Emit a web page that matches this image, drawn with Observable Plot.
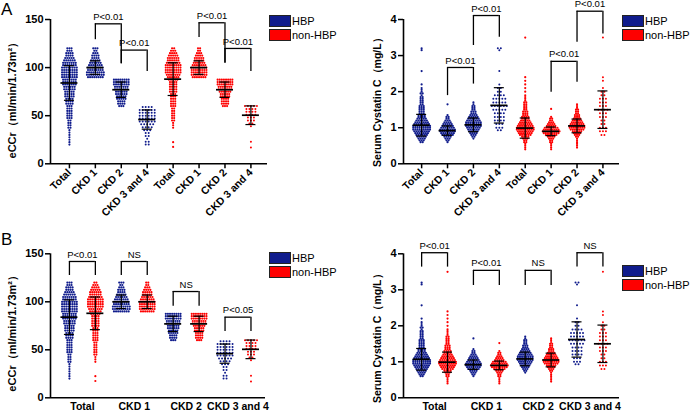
<!DOCTYPE html>
<html><head><meta charset="utf-8">
<script src="https://cdn.jsdelivr.net/npm/d3@7"></script>
<script src="https://cdn.jsdelivr.net/npm/@observablehq/plot@0.6"></script>
<style>
body{margin:0;background:#fff;}
#fig{position:relative;width:690px;height:411px;overflow:hidden;background:#fff;font-family:"Liberation Sans",Arial,sans-serif;}
.panel{position:absolute;}
.letter{position:absolute;font-size:17px;line-height:17px;color:#000;}
.legend{position:absolute;font-size:11px;color:#000;white-space:nowrap;}
.legend .item{display:flex;align-items:center;height:14px;white-space:nowrap;}
.sw{width:22px;height:12px;border:1px solid #222;margin-right:1px;box-sizing:border-box;flex:none;}
</style></head><body><div id="fig"></div>
<script>
const groups = ["Total", "CKD 1", "CKD 2", "CKD 3 and 4"];
const seriesNames = ["HBP", "non-HBP"];
const navy = "#101c8c", red = "#fe0000";

// eCCr rows: [value, number of dots in the row]
const eccrHbpTotal = [[120,3],[117.5,3],[115,4],[112.5,4],[110,5],[107.5,6],[105,7],[102.5,7],[100,8],[97.5,8],[95,8],[92.5,8],[90,8],[87.5,7],[85,7],[82.5,7],[80,6],[77.5,6],[75,5],[72.5,5],[70,5],[67.5,4],[65,4],[62.5,4],[60,3],[57.5,3],[55,3],[52.5,3],[50,3],[47.5,3],[45,2],[42.5,2],[40,2],[37.5,2],[35,1],[32.5,1],[30,1],[27.5,1],[25,1],[22.5,1],[20,1]];
const eccrHbpCkd1 = [[120,3],[117.5,2],[115,3],[112.5,4],[110,4],[107.5,5],[105,6],[102.5,7],[100,8],[97.5,8],[95,9],[92.5,9],[90,8]];
const eccrHbpCkd2 = [[87.5,8],[85,8],[82.5,8],[80,7],[77.5,7],[75,6],[72.5,6],[70,5],[67.5,5],[65,4],[62.5,4],[60,3]];
const eccrHbpCkd34 = [[59,4],[56,6],[53,6],[50,6],[47,6],[44,6],[41,5],[38,4],[35,3],[32,2],[29,2],[26,1],[23,2],[20,2]];
const eccrNonTotal = [[120,2],[117.5,3],[115,4],[112.5,5],[110,6],[107.5,6],[105,7],[102.5,8],[100,8],[97.5,8],[95,8],[92.5,7],[90,6],[87.5,5],[85,4],[82.5,4],[80,4],[77.5,4],[75,4],[72.5,3],[70,3],[67.5,3],[65,3],[62.5,3],[60,3],[57.5,2],[55,2],[52.5,2],[50,2],[47.5,2],[45,2],[42.5,1],[40,1],[37.5,1],[22.5,1],[17.5,1]];
const eccrNonCkd1 = [[120,2],[117.5,2],[115,3],[112.5,4],[110,5],[107.5,5],[105,6],[102.5,7],[100,8],[97.5,8],[95,8],[92.5,8],[90,7]];
const eccrNonCkd2 = [[87.5,8],[85,8],[82.5,8],[80,7],[77.5,7],[75,6],[72.5,5],[70,5],[67.5,4],[65,4],[62.5,4],[60,3]];
const eccrNonCkd34 = [[60,5],[57,4],[54,4],[51,4],[48,3],[45,3],[42,2],[39,1],[23,1],[17,1]];

// Serum cystatin C rows: [value, number of dots in the row]
const cysHbpTotal = [[3.2,1],[3.15,1],[2.57,1],[2.2,1],[2.1,1],[2.05,1],[2.0,1],[1.95,2],[1.9,1],[1.85,2],[1.8,2],[1.75,2],[1.7,2],[1.65,2],[1.6,3],[1.55,3],[1.5,3],[1.45,3],[1.4,3],[1.35,4],[1.3,4],[1.25,5],[1.2,6],[1.15,7],[1.1,8],[1.05,9],[1.0,9],[0.95,9],[0.9,8],[0.85,7],[0.8,6],[0.75,5],[0.7,4],[0.65,3],[0.6,2]];
const cysHbpCkd1 = [[1.65,1],[1.35,1],[1.3,2],[1.25,2],[1.2,3],[1.15,4],[1.1,5],[1.05,6],[1.0,7],[0.95,8],[0.9,8],[0.85,7],[0.8,6],[0.75,4],[0.7,3],[0.65,2],[0.6,1]];
const cysHbpCkd2 = [[1.7,1],[1.65,1],[1.6,2],[1.55,2],[1.5,2],[1.45,3],[1.4,3],[1.35,4],[1.3,5],[1.25,6],[1.2,7],[1.15,8],[1.1,8],[1.05,8],[1.0,7],[0.95,6],[0.9,5],[0.85,4],[0.8,3],[0.75,2],[0.7,1]];
const cysHbpCkd34 = [[3.2,2],[3.15,1],[2.57,1],[2.2,1],[2.1,2],[2.0,2],[1.9,4],[1.8,5],[1.7,5],[1.6,6],[1.5,5],[1.4,4],[1.3,4],[1.2,4],[1.1,3],[1.0,3],[0.93,2]];
const cysNonTotal = [[3.5,1],[2.4,1],[2.3,1],[2.2,1],[2.1,1],[2.0,1],[1.9,1],[1.85,1],[1.8,1],[1.75,1],[1.7,2],[1.65,2],[1.6,2],[1.55,2],[1.5,2],[1.45,3],[1.4,3],[1.35,3],[1.3,4],[1.25,4],[1.2,5],[1.15,6],[1.1,7],[1.05,8],[1.0,9],[0.95,9],[0.9,8],[0.85,7],[0.8,6],[0.75,4],[0.7,3],[0.65,2],[0.6,2],[0.55,1],[0.5,1],[0.45,1],[0.4,1]];
const cysNonCkd1 = [[1.52,1],[1.3,1],[1.25,2],[1.2,2],[1.15,3],[1.1,4],[1.05,5],[1.0,7],[0.95,8],[0.9,9],[0.85,8],[0.8,6],[0.75,4],[0.7,3],[0.65,2],[0.6,2],[0.55,1],[0.5,1],[0.45,1],[0.4,1]];
const cysNonCkd2 = [[1.65,1],[1.6,1],[1.55,1],[1.5,2],[1.45,2],[1.4,2],[1.35,3],[1.3,3],[1.25,4],[1.2,5],[1.15,6],[1.1,7],[1.05,8],[1.0,8],[0.95,7],[0.9,5],[0.85,4],[0.8,3],[0.75,2],[0.7,1],[0.65,1],[0.6,1],[0.55,1],[0.5,1],[0.45,1]];
const cysNonCkd34 = [[3.5,1],[2.4,1],[2.3,1],[2.1,1],[2.0,2],[1.9,2],[1.8,3],[1.7,3],[1.6,3],[1.5,4],[1.4,3],[1.3,3],[1.2,2],[1.1,2],[1.0,3],[0.9,3],[0.8,2]];

// mean and SD per group (Total, CKD 1, CKD 2, CKD 3 and 4)
const eccrHbpMean = [84, 100, 77, 46];
const eccrHbpSd = [18, 7, 8, 10];
const eccrNonMean = [88, 100, 77, 50.5];
const eccrNonSd = [17, 7, 8, 9.7];
const cysHbpMean = [1.07, 0.92, 1.08, 1.62];
const cysHbpSd = [0.30, 0.13, 0.19, 0.49];
const cysNonMean = [0.99, 0.90, 1.05, 1.50];
const cysNonSd = [0.28, 0.12, 0.19, 0.52];

const eccrTicks = [0, 50, 100, 150];
const cysTicks = [0, 1, 2, 3, 4];
const eccrLabel = "eCCr（ml/min/1.73m²）";
const cysLabel = "Serum Cystatin C（mg/L）";

// brackets: [left column, right column, left foot, right foot, top, label]
const bracketsAeccr = [[1,2,129,104,145.5,"P<0.01"],[2,3,104,96,118.2,"P<0.01"],[5,6,131.3,105.3,146.6,"P<0.01"],[6,7,104.3,96,119.9,"P<0.01"]];
const bracketsAcys = [[1,2,1.89,2.21,2.67,"P<0.01"],[2,3,3.28,3.51,4.11,"P<0.01"],[5,6,1.98,2.26,2.84,"P<0.01"],[6,7,3.37,3.6,4.23,"P<0.01"]];
const bracketsBeccr = [[0,1,127.4,127.4,142,"P<0.01"],[2,3,127.4,127.4,142,"NS"],[4,5,95.4,95.4,110.7,"NS"],[6,7,69,69,84,"P<0.05"]];
const bracketsBcys = [[0,1,3.63,3.63,4.03,"P<0.01"],[2,3,3.12,3.12,3.54,"P<0.01"],[4,5,3.12,3.12,3.54,"NS"],[6,7,3.63,3.63,4.03,"NS"]];

const eccrHbp = [eccrHbpTotal, eccrHbpCkd1, eccrHbpCkd2, eccrHbpCkd34];
const eccrNon = [eccrNonTotal, eccrNonCkd1, eccrNonCkd2, eccrNonCkd34];
const cysHbp = [cysHbpTotal, cysHbpCkd1, cysHbpCkd2, cysHbpCkd34];
const cysNon = [cysNonTotal, cysNonCkd1, cysNonCkd2, cysNonCkd34];

function columnsFor(hbpRows, nonRows, hbpMean, hbpSd, nonMean, nonSd, layout) {
  const cols = [];
  groups.forEach((g, i) => {
    const cH = layout === "A" ? i : 2 * i, cN = layout === "A" ? 4 + i : 2 * i + 1;
    cols.push({col: cH, series: "HBP", rows: hbpRows[i], mean: hbpMean[i], sd: hbpSd[i], sparse: i === 3});
    cols.push({col: cN, series: "non-HBP", rows: nonRows[i], mean: nonMean[i], sd: nonSd[i], sparse: i === 3});
  });
  return cols;
}

const fig = document.getElementById("fig");
const FONT = "'Liberation Sans', Arial, sans-serif";

function makePanel(o) {
  const {width, height, mL, mR, mT, mB, xDomain, yDomain} = o;
  const pxu = (width - mL - mR) / (xDomain[1] - xDomain[0]);
  const dense = [], sparse = [];
  o.columns.forEach(c => {
    const pitch = (c.sparse ? 3.0 : 2.1) / pxu;
    for (const [v, n] of c.rows) for (let i = 0; i < n; i++)
      (c.sparse ? sparse : dense).push({x: c.col + (i - (n - 1) / 2) * pitch, y: v, series: c.series});
  });
  const mW = 8.5 / pxu, cW = 5 / pxu;
  const caps = o.columns.flatMap(c => [{col: c.col, y: c.mean - c.sd}, {col: c.col, y: c.mean + c.sd}]);
  const svg = Plot.plot({
    width, height, marginLeft: mL, marginRight: mR, marginTop: mT, marginBottom: mB,
    x: {domain: xDomain},
    y: {domain: yDomain},
    color: {domain: seriesNames, range: [navy, red]},
    style: {fontFamily: FONT, background: "transparent", overflow: "hidden", color: "#000"},
    marks: [
      Plot.axisY({ticks: o.yTicks, tickFormat: d => String(d), tickSize: 5, tickPadding: 2, strokeWidth: 1.5, fontSize: 11, fontWeight: "bold", label: null}),
      o.xAxis,
      Plot.ruleY([yDomain[0]], {stroke: "#000", strokeWidth: 1.6}),
      Plot.ruleX([xDomain[0]], {y1: yDomain[0], y2: yDomain[1], stroke: "#000", strokeWidth: 1.6}),
      Plot.dot(dense, {x: "x", y: "y", fill: "series", r: 1.1}),
      Plot.dot(sparse, {x: "x", y: "y", fill: "series", r: 1.0}),
      Plot.ruleX(o.columns, {x: "col", y1: c => c.mean - c.sd, y2: c => c.mean + c.sd, stroke: "#000", strokeWidth: 1.2}),
      Plot.ruleY(caps, {y: "y", x1: c => c.col - cW, x2: c => c.col + cW, stroke: "#000", strokeWidth: 1.2}),
      Plot.ruleY(o.columns, {y: "mean", x1: c => c.col - mW, x2: c => c.col + mW, stroke: "#000", strokeWidth: 1.7}),
      Plot.ruleY(o.brackets, {y: b => b[4], x1: b => b[0], x2: b => b[1], stroke: "#000", strokeWidth: 1.3}),
      Plot.ruleX(o.brackets, {x: b => b[0], y1: b => b[2], y2: b => b[4], stroke: "#000", strokeWidth: 1.3}),
      Plot.ruleX(o.brackets, {x: b => b[1], y1: b => b[3], y2: b => b[4], stroke: "#000", strokeWidth: 1.3}),
      Plot.text(o.brackets, {x: b => (b[0] + b[1]) / 2, y: b => b[4], text: b => b[5], dy: -7, fontSize: 9.5, fill: "#000"}),
      Plot.text([o.yLabel], {text: d => d, frameAnchor: "left", textAnchor: "middle", lineAnchor: "middle", rotate: -90, dx: o.labelDx, dy: o.labelDy, fontSize: o.labelSize, fontWeight: "bold", fill: "#000"})
    ]
  });
  svg.classList.add("panel");
  svg.style.left = o.left + "px";
  svg.style.top = o.top + "px";
  fig.appendChild(svg);
}

const colLabelsA = [...groups, ...groups];
const axisA = () => Plot.axisX({ticks: d3.range(8), tickFormat: d => colLabelsA[d], tickRotate: -45, tickSize: 5, tickPadding: 2, strokeWidth: 1.5, fontSize: 10.5, fontWeight: "bold", label: null});
const pairCenters = groups.map((g, i) => 2 * i + 0.5);
const axisB = () => Plot.axisX({ticks: pairCenters, tickFormat: d => groups[Math.round((d - 0.5) / 2)], tickSize: 0, tickPadding: 5, fontSize: 10.5, fontWeight: "bold", label: null});

// Panel A, eCCr
makePanel({left: 0, top: 0, width: 275, height: 222, mL: 50, mR: 8, mT: 19, mB: 58.7,
  xDomain: [-0.73, 7.64], yDomain: [0, 150], yTicks: eccrTicks, xAxis: axisA(),
  columns: columnsFor(eccrHbp, eccrNon, eccrHbpMean, eccrHbpSd, eccrNonMean, eccrNonSd, "A"),
  brackets: bracketsAeccr, yLabel: eccrLabel, labelDx: -38, labelDy: 6, labelSize: 11});
// Panel A, cystatin C
makePanel({left: 345, top: 0, width: 280, height: 222, mL: 58, mR: 6, mT: 19, mB: 58.7,
  xDomain: [-0.7, 7.64], yDomain: [0, 4], yTicks: cysTicks, xAxis: axisA(),
  columns: columnsFor(cysHbp, cysNon, cysHbpMean, cysHbpSd, cysNonMean, cysNonSd, "A"),
  brackets: bracketsAcys, yLabel: cysLabel, labelDx: -26, labelDy: 8, labelSize: 10.5});
// Panel B, eCCr
makePanel({left: 0, top: 222, width: 275, height: 189, mL: 50, mR: 10, mT: 31.3, mB: 13.7,
  xDomain: [-0.73, 7.56], yDomain: [0, 150], yTicks: eccrTicks, xAxis: axisB(),
  columns: columnsFor(eccrHbp, eccrNon, eccrHbpMean, eccrHbpSd, eccrNonMean, eccrNonSd, "B"),
  brackets: bracketsBeccr, yLabel: eccrLabel, labelDx: -38, labelDy: 5, labelSize: 11});
// Panel B, cystatin C
makePanel({left: 345, top: 222, width: 280, height: 189, mL: 58, mR: 6, mT: 31.3, mB: 13.7,
  xDomain: [-0.7, 7.64], yDomain: [0, 4], yTicks: cysTicks, xAxis: axisB(),
  columns: columnsFor(cysHbp, cysNon, cysHbpMean, cysHbpSd, cysNonMean, cysNonSd, "B"),
  brackets: bracketsBcys, yLabel: cysLabel, labelDx: -26, labelDy: 10, labelSize: 10.5});

// panel letters
[["A", 1, 1], ["B", 1, 231]].forEach(([t, x, y]) => {
  const d = document.createElement("div"); d.className = "letter"; d.textContent = t;
  d.style.left = x + "px"; d.style.top = y + "px"; fig.appendChild(d);
});
// legends
[[269, 14], [622, 14], [269, 251], [622, 264]].forEach(([x, y]) => {
  const lg = document.createElement("div"); lg.className = "legend";
  lg.style.left = x + "px"; lg.style.top = y + "px";
  seriesNames.forEach((s, i) => {
    const it = document.createElement("div"); it.className = "item";
    const sw = document.createElement("div"); sw.className = "sw"; sw.style.background = i ? red : navy;
    const tx = document.createElement("span"); tx.textContent = s;
    it.appendChild(sw); it.appendChild(tx); lg.appendChild(it);
  });
  fig.appendChild(lg);
});
</script></body></html>
